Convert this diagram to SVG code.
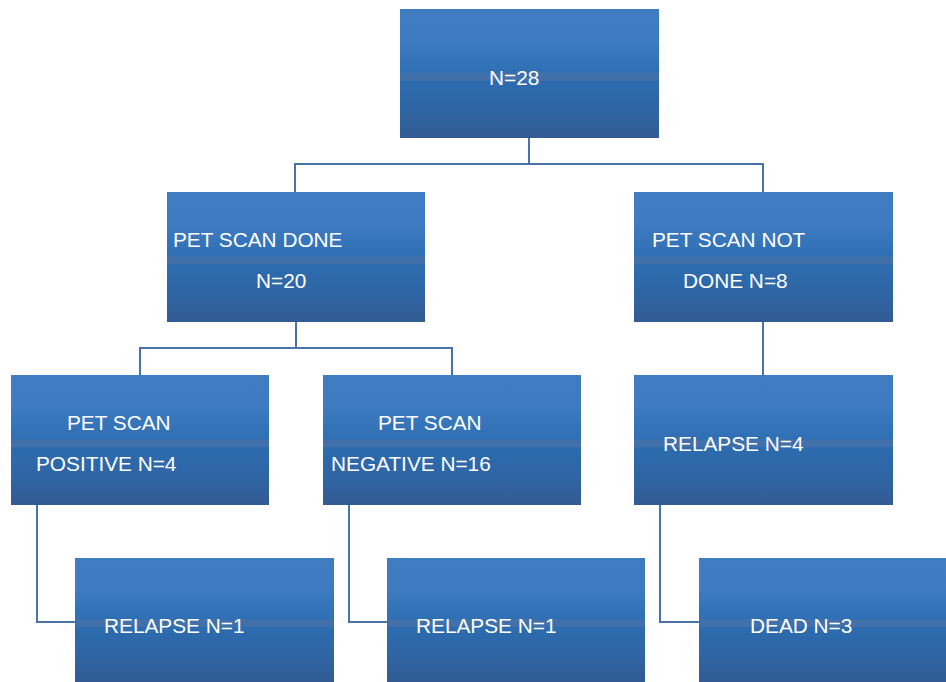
<svg xmlns="http://www.w3.org/2000/svg" width="946" height="682" viewBox="0 0 946 682">
<defs>
<linearGradient id="g" x1="0" y1="0" x2="0" y2="1">
<stop offset="0" stop-color="#3f7cc0"/>
<stop offset="0.25" stop-color="#3e7bc0"/>
<stop offset="0.49" stop-color="#2f6fb3"/>
<stop offset="0.5" stop-color="#4270aa"/>
<stop offset="0.55" stop-color="#4270aa"/>
<stop offset="0.56" stop-color="#2c6caf"/>
<stop offset="0.8" stop-color="#2f64a3"/>
<stop offset="1" stop-color="#325b93"/>
</linearGradient>
</defs>
<style>
.box{fill:url(#g)}
.t{font-family:"Liberation Sans",Arial,sans-serif;font-size:20.8px;fill:#ffffff}
.c{fill:none;stroke:#4a74a9;stroke-width:2}
</style>
<g id="connectors">
<path class="c" d="M529,138 V164 M295,192 V164 H763 V192"/>
<path class="c" d="M296,322 V348 M140,375 V348 H452 V375"/>
<path class="c" d="M763,322 V375"/>
<path class="c" d="M37,505 V622 H75"/>
<path class="c" d="M349,505 V622 H387"/>
<path class="c" d="M660,505 V622 H699"/>
</g>
<g id="n28"><rect class="box" x="400" y="9" width="259" height="129"/><text class="t" x="489" y="85">N=28</text></g>
<g id="petdone"><rect class="box" x="167" y="192" width="258" height="130"/><text class="t" x="173" y="247">PET SCAN DONE</text><text class="t" x="256" y="288">N=20</text></g>
<g id="petnotdone"><rect class="box" x="634" y="192" width="259" height="130"/><text class="t" x="652" y="247">PET SCAN NOT</text><text class="t" x="683" y="288">DONE N=8</text></g>
<g id="petpos"><rect class="box" x="11" y="375" width="258" height="130"/><text class="t" x="67" y="430">PET SCAN</text><text class="t" x="36" y="471">POSITIVE N=4</text></g>
<g id="petneg"><rect class="box" x="323" y="375" width="258" height="130"/><text class="t" x="378" y="430">PET SCAN</text><text class="t" x="331" y="471">NEGATIVE N=16</text></g>
<g id="relapse4"><rect class="box" x="634" y="375" width="259" height="130"/><text class="t" x="663" y="451">RELAPSE N=4</text></g>
<g id="relapse1a"><rect class="box" x="75" y="558" width="259" height="124"/><text class="t" x="104" y="633">RELAPSE N=1</text></g>
<g id="relapse1b"><rect class="box" x="387" y="558" width="258" height="124"/><text class="t" x="416" y="633">RELAPSE N=1</text></g>
<g id="dead3"><rect class="box" x="699" y="558" width="247" height="124"/><text class="t" x="750" y="633">DEAD N=3</text></g>
</svg>
